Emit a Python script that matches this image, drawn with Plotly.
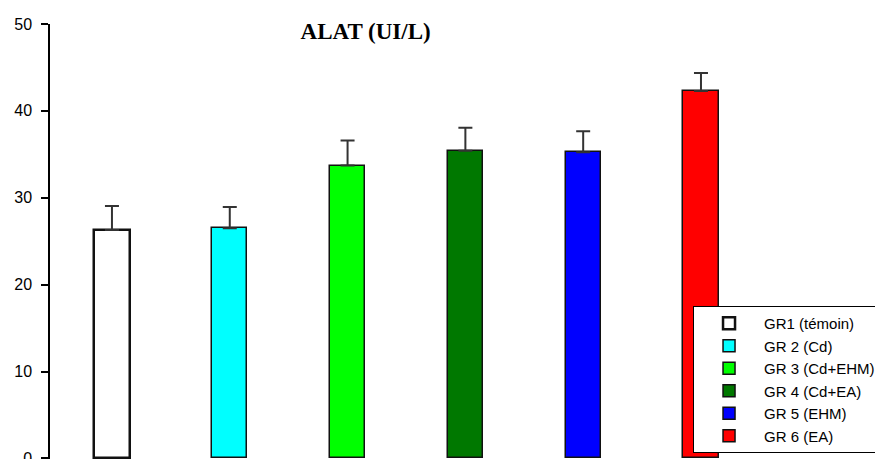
import plotly.graph_objects as go

# ALAT (UI/L) per group, mean and SEM
groups = ['GR1 (témoin)', 'GR 2 (Cd)', 'GR 3 (Cd+EHM)', 'GR 4 (Cd+EA)', 'GR 5 (EHM)', 'GR 6 (EA)']
means = [26.3, 26.5, 33.7, 35.4, 35.25, 42.3]
errors = [2.75, 2.45, 2.9, 2.65, 2.4, 2.05]
colors = ['#ffffff', '#00ffff', '#00ff00', '#007800', '#0000ff', '#ff0000']
outline = [2.5, 1.5, 1.5, 1.5, 1.5, 1.5]
y_ticks = [0, 10, 20, 30, 40, 50]

fig = go.Figure()
for i, name in enumerate(groups):
    fig.add_trace(go.Bar(
        x=[i], y=[means[i]], name=name, width=0.3,
        marker=dict(color=colors[i], line=dict(color='#111111', width=outline[i])),
        error_y=dict(type='data', symmetric=False, array=[errors[i]], arrayminus=[0],
                     color='#333333', thickness=2, width=7),
    ))

# the page body adds an 8px offset, margins are set to make up for it
fig.update_layout(
    width=883, height=459,
    margin=dict(l=42, r=0, t=16, b=6, autoexpand=False),
    plot_bgcolor='white', paper_bgcolor='white',
    font=dict(family='Liberation Sans, Arial', size=16, color='black'),
    title=dict(text='<b>ALAT (UI/L)</b>', xref='container', x=0.405, xanchor='center',
               y=0.95, yanchor='middle',
               font=dict(family='Liberation Serif, Times New Roman', size=23, color='black')),
    showlegend=True,
    legend=dict(x=0.7646, y=0.3547, xanchor='left', yanchor='top', bgcolor='white',
                bordercolor='black', borderwidth=1, itemwidth=60, traceorder='normal',
                font=dict(size=15)),
    bargap=0,
)
fig.update_xaxes(range=[-0.526, 6.613], visible=False)
fig.update_yaxes(range=[-0.3, 50], tickvals=y_ticks, ticks='outside', ticklen=7, tickwidth=1.5,
                 tickcolor='black', showline=True, linecolor='black', linewidth=1.5,
                 showgrid=False, zeroline=False, ticklabelstandoff=6)

fig.write_html("out.html")
